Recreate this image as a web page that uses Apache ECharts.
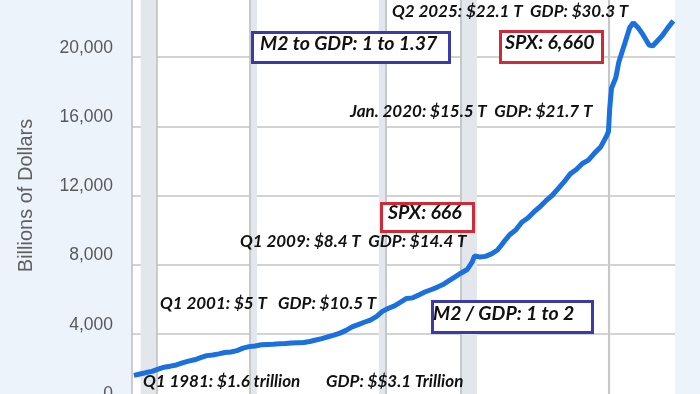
<!DOCTYPE html>
<html>
<head>
<meta charset="utf-8">
<script src="https://cdn.jsdelivr.net/npm/echarts@6/dist/echarts.min.js"></script>
<style>
html,body{margin:0;padding:0;background:#ecf3fb;}
#c{width:700px;height:394px;}
</style>
</head>
<body>
<div id="c"></div>
<script>
// Time (decimal years) and M2 money stock (billions of dollars)
const years = [1981.0,1981.5,1982.0,1982.5,1983.0,1983.5,1984.0,1984.5,1985.0,1985.5,1986.0,1986.5,1987.0,1987.5,1988.0,1988.5,1989.0,1989.5,1990.0,1990.5,1991.0,1991.5,1992.0,1992.5,1993.0,1993.5,1994.0,1994.5,1995.0,1995.5,1996.0,1996.5,1997.0,1997.5,1998.0,1998.5,1999.0,1999.5,2000.0,2000.5,2001.0,2001.5,2002.0,2002.5,2003.0,2003.5,2004.0,2004.5,2005.0,2005.5,2006.0,2006.5,2007.0,2007.5,2008.0,2008.5,2008.9,2009.1,2009.5,2010.0,2010.5,2011.0,2011.5,2012.0,2012.5,2013.0,2013.5,2014.0,2014.5,2015.0,2015.5,2016.0,2016.5,2017.0,2017.5,2018.0,2018.5,2019.0,2019.5,2020.0,2020.15,2020.25,2020.4,2020.75,2021.0,2021.5,2021.9,2022.2,2022.6,2023.0,2023.5,2023.8,2024.2,2024.6,2025.0,2025.5];
const m2 = [1600,1680,1760,1830,1960,2070,2130,2200,2320,2420,2500,2620,2740,2780,2840,2920,2950,3030,3170,3260,3300,3370,3390,3400,3420,3440,3470,3490,3500,3560,3640,3720,3820,3920,4040,4200,4400,4530,4670,4790,5000,5300,5480,5620,5830,6050,6080,6250,6420,6550,6690,6850,7080,7300,7520,7720,8150,8500,8450,8480,8620,8850,9300,9730,10000,10450,10700,11050,11350,11700,12000,12400,12800,13250,13500,13850,14050,14450,14800,15450,15700,17000,18200,18800,19700,20800,21700,22000,21700,21300,20700,20650,20950,21250,21650,22100];
const recessions = [[1981.55,1982.88],[1990.55,1991.15],[2001.2,2001.85],[2007.9,2009.3],[2020.1,2020.3]];
const vLines = [1982.85,1990.55,2001.75,2007.95,2020.15];

const chart = echarts.init(document.getElementById('c'));
const ann = "Lato";
function txt(x,cy,s,size){
  size = size || 17;
  return {type:'text',left:x,top:Math.round(cy - size*0.6),z:10,style:{text:s,font:'italic bold '+size+'px '+ann,fill:'#111'}};
}
function box(x,y,w,h,color){
  return {type:'rect',left:x,top:y,z:9,shape:{width:w,height:h},style:{fill:'#fff',stroke:color,lineWidth:3}};
}
chart.setOption({
  animation:false,
  backgroundColor:'#ecf3fb',
  grid:{left:132,right:25,top:-12,bottom:-9,outerBoundsMode:'none',containLabel:false,show:true,backgroundColor:'#ffffff',borderWidth:0},
  xAxis:{type:'value',min:1980.84,max:2025.64,show:false,splitLine:{show:false}},
  yAxis:{type:'value',min:0,max:24000,interval:4000,
    name:'Billions of Dollars',nameLocation:'middle',nameGap:96,
    nameTextStyle:{fontFamily:'Liberation Sans',fontSize:20,color:'#606060'},
    axisLine:{show:true,lineStyle:{color:'#bdbdbd',width:1.5}},
    axisTick:{show:false},
    axisLabel:{fontFamily:'Liberation Sans',fontSize:17.5,color:'#595959',margin:19,verticalAlign:'bottom',
      formatter:v=> (v===24000?'':v.toLocaleString('en-US'))},
    splitLine:{lineStyle:{color:'#c4c4c4',width:1.5}}
  },
  series:[{
    type:'line',showSymbol:false,
    data:years.map((y,i)=>[y,m2[i]]),
    lineStyle:{color:'#1a70dc',width:5},
    z:5,
    markArea:{silent:true,itemStyle:{color:'#e3e7ec'},data:recessions.map(r=>[{xAxis:r[0]},{xAxis:r[1]}])},
    markLine:{silent:true,symbol:'none',label:{show:false},lineStyle:{color:'#bdbdbd',width:1.5,type:'solid'},
      data:vLines.map(v=>({xAxis:v}))}
  }],
  graphic:[
    txt(392,13,'Q2 2025: $22.1 T  GDP: $30.3 T'),
    box(251,31,197,30,'#3a3aa8'),
    txt(260,46,'M2 to GDP: 1 to 1.37',19.5),
    box(499,30,102,31,'#cc2b37'),
    txt(505,45,'SPX: 6,660',19.5),
    txt(350,113,'Jan. 2020: $15.5 T  GDP: $21.7 T'),
    box(380,202,92,28,'#cc2b37'),
    txt(388,215,'SPX: 666',19.5),
    txt(240,243,'Q1 2009: $8.4 T  GDP: $14.4 T'),
    txt(160,305,'Q1 2001: $5 T   GDP: $10.5 T'),
    box(431,300,160,31,'#3a3aa8'),
    txt(433,316,'M2 / GDP: 1 to 2',19.5),
    txt(143,383,'Q1 1981: $1.6 trillion'),
    txt(326,383,'GDP: $$3.1 Trillion')
  ]
});
</script>
</body>
</html>
